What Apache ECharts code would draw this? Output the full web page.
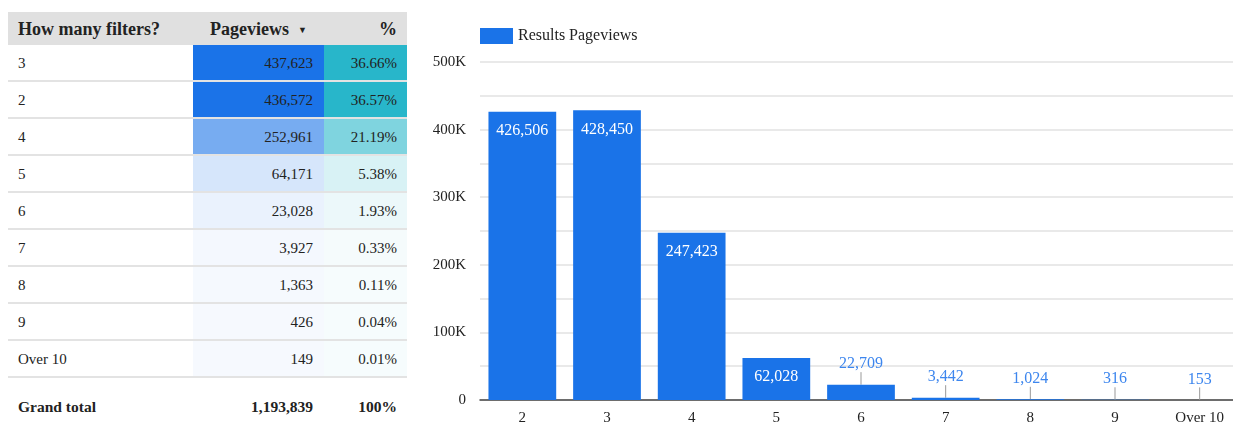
<!DOCTYPE html>
<html>
<head>
<meta charset="utf-8">
<script src="https://cdn.jsdelivr.net/npm/echarts@6/dist/echarts.min.js"></script>
<style>
  html, body { margin: 0; padding: 0; background: #fff; }
  body { width: 1233px; height: 423px; position: relative; overflow: hidden;
         font-family: 'Liberation Serif', 'DejaVu Serif', serif; color: #222; }
  #table { position: absolute; left: 8px; top: 12px; width: 399px; }
  .row { display: flex; height: 35px; border-bottom: 2px solid #e3e3e3; font-size: 15px; }
  .row > div { line-height: 36px; box-sizing: border-box; }
  .c1 { width: 185px; padding-left: 10px; text-align: left; }
  .c2 { width: 131px; padding-right: 11px; text-align: right; }
  .c3 { width: 83px; padding-right: 10px; text-align: right; }
  .head { height: 33px; border-bottom: none; background: #e0e0e0; font-weight: bold; font-size: 18px; }
  .head > div { line-height: 34px; }
  .head .c2 { padding-right: 17px; }
  .arrow { font-size: 9px; margin-left: 9px; vertical-align: 2px; }
  .total { height: 45px; border-bottom: none; font-weight: bold; padding-top: 6px; font-size: 15.5px; }
  .total > div { line-height: 46px; }
  #chart { position: absolute; left: 410px; top: 0; width: 823px; height: 423px; }
</style>
</head>
<body>
<div id="table"></div>
<div id="chart"></div>
<script>
// table data
var tableRows = ["3", "2", "4", "5", "6", "7", "8", "9", "Over 10"];
var tableViews = [437623, 436572, 252961, 64171, 23028, 3927, 1363, 426, 149];
var tablePct = ["36.66%", "36.57%", "21.19%", "5.38%", "1.93%", "0.33%", "0.11%", "0.04%", "0.01%"];
var totalViews = "1,193,839";
var totalPct = "100%";

// chart data
var categories = ["2", "3", "4", "5", "6", "7", "8", "9", "Over 10"];
var resultViews = [426506, 428450, 247423, 62028, 22709, 3442, 1024, 316, 153];
var yTicks = [0, 100000, 200000, 300000, 400000, 500000];

var BLUE = "#1a73e8";

function fmt(n) { return Number(n).toLocaleString("en-US"); }

function tint(rgb, t) {
  var c = rgb.map(function(v) { return Math.round(255 - t * (255 - v)); });
  return "rgb(" + c.join(",") + ")";
}

function buildTable() {
  var max = Math.max.apply(null, tableViews);
  var html = "<div class='row head'><div class='c1'>How many filters?</div>" +
    "<div class='c2'>Pageviews<span class='arrow'>&#9660;</span></div><div class='c3'>%</div></div>";
  tableRows.forEach(function(name, i) {
    var t = 0.04 + 0.96 * tableViews[i] / max;
    html += "<div class='row'><div class='c1'>" + name + "</div>" +
      "<div class='c2' style='background:" + tint([26, 115, 232], t) + "'>" + fmt(tableViews[i]) + "</div>" +
      "<div class='c3' style='background:" + tint([40, 182, 202], t) + "'>" + tablePct[i] + "</div></div>";
  });
  html += "<div class='row total'><div class='c1'>Grand total</div><div class='c2'>" + totalViews +
    "</div><div class='c3'>" + totalPct + "</div></div>";
  document.getElementById("table").innerHTML = html;
}

var FONT = "'Liberation Serif', 'DejaVu Serif', serif";

function initChart() {
  var chart = echarts.init(document.getElementById("chart"));
  var data = resultViews.map(function(v) {
    if (v > 40000) {
      return { value: v, label: { position: "insideTop", distance: 11, color: "#fff", fontSize: 16 } };
    }
    return { value: v, label: { position: "top", color: "#3d86ee", fontSize: 16 } };
  });
  chart.setOption({
    animation: false,
    legend: {
      left: 65, top: 23, itemWidth: 33, itemHeight: 16, itemGap: 7, icon: "rect",
      textStyle: { color: "#222", fontSize: 16, fontFamily: FONT }
    },
    grid: { left: 70, top: 62, width: 762, height: 338, outerBoundsMode: "none", containLabel: false },
    xAxis: {
      type: "category", data: categories,
      axisTick: { show: false },
      axisLine: { lineStyle: { color: "#444", width: 1.5 } },
      axisLabel: { color: "#222", fontSize: 15, fontFamily: FONT, margin: 11 }
    },
    yAxis: {
      type: "value", min: 0, max: 500000, interval: 50000,
      axisLine: { show: false }, axisTick: { show: false },
      splitLine: { lineStyle: { color: "#e2e2e2", width: 1.5 } },
      axisLabel: {
        color: "#222", fontSize: 15, fontFamily: FONT, margin: 14,
        formatter: function(v) {
          if (yTicks.indexOf(v) < 0) return "";
          return v === 0 ? "0" : (v / 1000) + "K";
        }
      }
    },
    series: [{
      name: "Results Pageviews", type: "bar", data: data,
      barCategoryGap: "20%",
      itemStyle: { color: BLUE },
      label: { show: true, fontFamily: FONT, formatter: function(p) { return fmt(p.value); } },
      labelLine: { show: true, lineStyle: { color: "#999", width: 1 } },
      labelLayout: function(p) {
        if (resultViews[p.dataIndex] > 40000) return {};
        return {
          x: p.rect.x + p.rect.width / 2,
          y: Math.min(p.rect.y - 20.5, 380.5),
          align: "center", verticalAlign: "middle"
        };
      }
    }]
  });
}

buildTable();
initChart();
</script>
</body>
</html>
